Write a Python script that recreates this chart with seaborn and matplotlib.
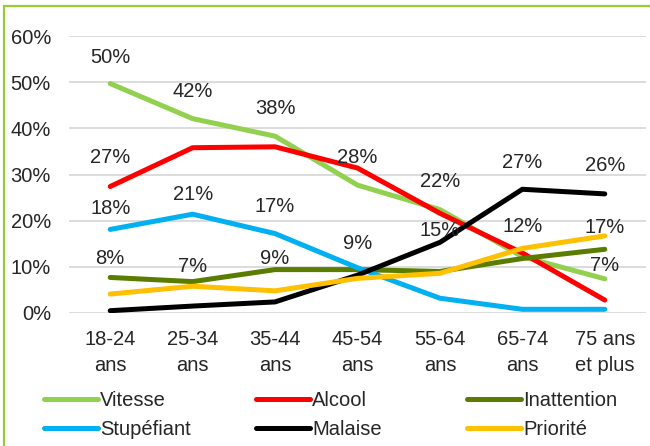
import pandas as pd
import numpy as np
import matplotlib.pyplot as plt
import seaborn as sns
from matplotlib.patches import Rectangle

ages = ['18-24\nans', '25-34\nans', '35-44\nans', '45-54\nans',
        '55-64\nans', '65-74\nans', '75 ans\net plus']

vitesse = [49.7, 42.1, 38.3, 27.7, 22.4, 12.2, 7.4]
alcool = [27.4, 35.8, 36.0, 31.4, 21.6, 13.0, 2.8]
inattention = [7.7, 6.8, 9.4, 9.4, 9.0, 11.8, 13.8]
stupefiant = [18.1, 21.4, 17.2, 9.8, 3.2, 0.8, 0.8]
malaise = [0.5, 1.5, 2.4, 8.2, 15.3, 26.8, 25.8]
priorite = [4.1, 5.8, 4.8, 7.5, 8.6, 14.0, 16.7]

series = ['Vitesse', 'Alcool', 'Inattention', 'Stupéfiant', 'Malaise', 'Priorité']
colors = ['#92D050', '#FF0000', '#5A7D00', '#00B0F0', '#000000', '#FFC000']

# which points get a value label
label_series = ['Vitesse', 'Alcool', 'Stupéfiant', 'Inattention',
                'Vitesse', 'Stupéfiant', 'Inattention',
                'Vitesse', 'Stupéfiant', 'Inattention',
                'Vitesse', 'Inattention',
                'Vitesse', 'Malaise',
                'Malaise', 'Vitesse',
                'Malaise', 'Priorité', 'Vitesse']
label_idx = [0, 0, 0, 0, 1, 1, 1, 2, 2, 2, 3, 3, 4, 4, 5, 5, 6, 6, 6]
label_dy = [26, 29, 21, 19, 27, 20, 15, 28, 27, 11, 28, 26, 28, 12, 27, 30, 28, 8, 13]

values = dict(zip(series, [vitesse, alcool, inattention, stupefiant, malaise, priorite]))
rows = []
for s in series:
    for i, v in enumerate(values[s]):
        rows.append({'x': i, 'val': v, 'serie': s})
df = pd.DataFrame(rows)

sns.set_style('white')
plt.rcParams['font.family'] = ['Liberation Sans', 'DejaVu Sans']

fig = plt.figure(figsize=(6.5, 4.46), dpi=100)
ax = fig.add_axes([69 / 650, 1 - 313 / 446, 577 / 650, 277 / 446])

sns.lineplot(data=df, x='x', y='val', hue='serie', palette=dict(zip(series, colors)),
             hue_order=series, sort=False, linewidth=3.6, ax=ax, legend=False)

fs = 14.5
ax.set_xlim(-0.5, 6.5)
ax.set_ylim(0, 60)
ax.set_yticks(range(0, 61, 10))
ax.set_yticklabels([f'{t}%' for t in range(0, 61, 10)], fontsize=fs)
ax.set_xticks(range(len(ages)))
ax.set_xticklabels(ages, fontsize=fs, linespacing=1.5)
ax.tick_params(axis='y', length=0, pad=13)
ax.tick_params(axis='x', length=0, pad=12)
ax.set_xlabel('')
ax.set_ylabel('')
ax.yaxis.grid(True, color='#D9D9D9', linewidth=1.3)
ax.set_axisbelow(True)
for sp in ax.spines.values():
    sp.set_visible(False)

for s, i, dy in zip(label_series, label_idx, label_dy):
    v = values[s][i]
    ax.annotate(f'{round(v)}%', (i, v), xytext=(0, dy), textcoords='offset pixels',
                ha='center', va='center', fontsize=fs)

# one small legend per column, Excel spaces them evenly
col_x = [44, 256, 467]
for c in range(3):
    ks = [c, c + 3]
    handles = [plt.Line2D([], [], color=colors[k], linewidth=3.6) for k in ks]
    fig.legend(handles, [series[k] for k in ks], loc='upper left',
               bbox_to_anchor=(col_x[c] / 650, 1 - 391 / 446),
               frameon=False, fontsize=fs, handlelength=2.7, handletextpad=0.1,
               labelspacing=0.5, borderaxespad=0, borderpad=0)

fig.patches.append(Rectangle((3.5 / 650, -0.1), 2, 1.1 - 6 / 446, transform=fig.transFigure,
                             fill=False, edgecolor='#99CC33', linewidth=1.6))

fig.savefig('out.png', dpi=100)
